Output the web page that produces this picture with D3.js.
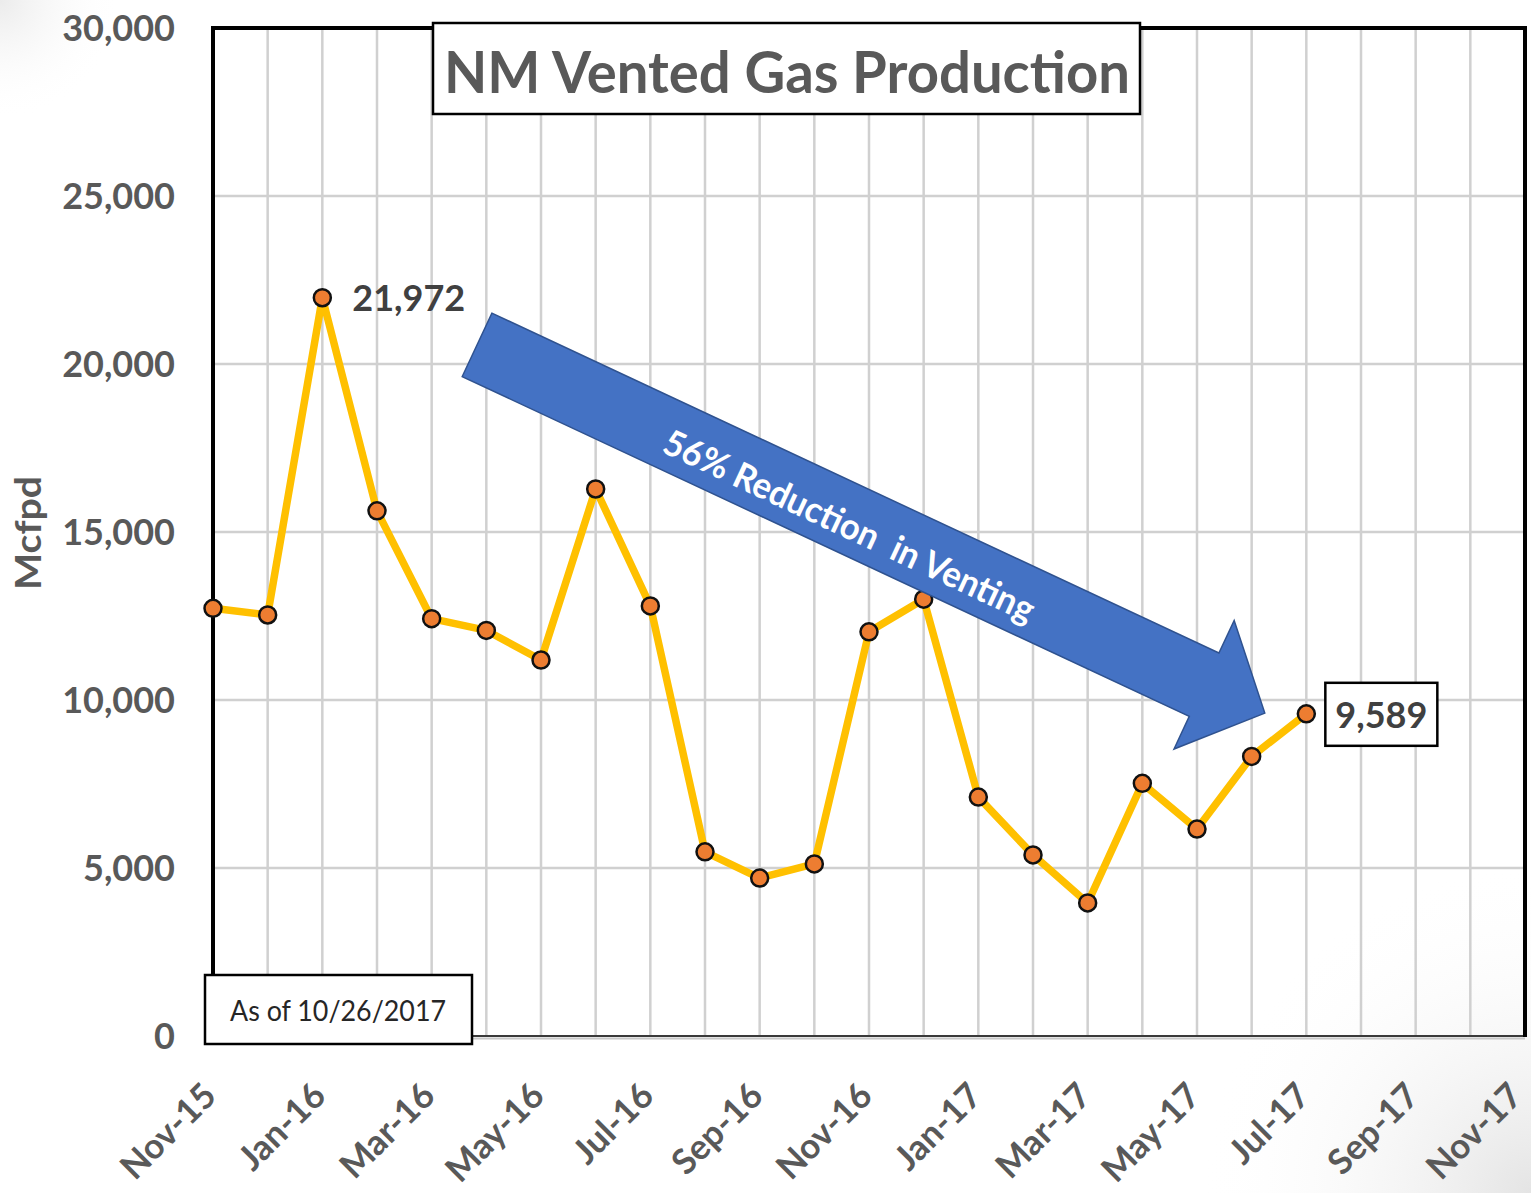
<!DOCTYPE html>
<html>
<head>
<meta charset="utf-8">
<script src="https://cdn.jsdelivr.net/npm/d3@7"></script>
<style>
  html, body { margin: 0; padding: 0; background: #fff; }
  svg { display: block; }
</style>
</head>
<body>
<script>
// month labels for the date axis (Nov-15 .. Nov-17), one per month
const months = ["Nov-15","Dec-15","Jan-16","Feb-16","Mar-16","Apr-16","May-16","Jun-16","Jul-16",
  "Aug-16","Sep-16","Oct-16","Nov-16","Dec-16","Jan-17","Feb-17","Mar-17","Apr-17","May-17",
  "Jun-17","Jul-17","Aug-17","Sep-17","Oct-17","Nov-17"];
// vented gas, Mcfpd, Nov-15 .. Jul-17
const vented = [12730, 12530, 21972, 15630, 12420, 12070, 11190, 16280, 12800, 5480, 4700,
  5120, 12030, 13000, 7110, 5390, 3960, 7520, 6160, 8320, 9589];
const yTicks = [0, 5000, 10000, 15000, 20000, 25000, 30000];
const xTicks = [0, 2, 4, 6, 8, 10, 12, 14, 16, 18, 20, 22, 24];

const W = 1531, H = 1193;
const gray = "#595959";
const font = "Lato, 'Open Sans', sans-serif";

const svg = d3.select("body").append("svg")
  .attr("width", W).attr("height", H);

// slide background shading in the corners
const defs = svg.append("defs");
const g1 = defs.append("radialGradient").attr("id", "shadeBR")
  .attr("gradientUnits", "userSpaceOnUse").attr("cx", W).attr("cy", H).attr("r", 330);
g1.append("stop").attr("offset", 0).attr("stop-color", "#e4e4e4");
g1.append("stop").attr("offset", 1).attr("stop-color", "#fff").attr("stop-opacity", 0);
const g2 = defs.append("radialGradient").attr("id", "shadeTL")
  .attr("gradientUnits", "userSpaceOnUse").attr("cx", 0).attr("cy", 0).attr("r", 120);
g2.append("stop").attr("offset", 0).attr("stop-color", "#ebebeb");
g2.append("stop").attr("offset", 1).attr("stop-color", "#fff").attr("stop-opacity", 0);
svg.append("rect").attr("width", W).attr("height", H).attr("fill", "#fff");
svg.append("rect").attr("width", W).attr("height", H).attr("fill", "url(#shadeBR)");
svg.append("rect").attr("width", W).attr("height", H).attr("fill", "url(#shadeTL)");

const x = d3.scaleLinear().domain([0, 24]).range([213, 1525]);
const y = d3.scaleLinear().domain([0, 30000]).range([1036, 28]);

// gridlines
svg.append("g").selectAll("line").data(d3.range(1, 24)).join("line")
  .attr("x1", d => x(d)).attr("x2", d => x(d))
  .attr("y1", y(30000)).attr("y2", y(0))
  .attr("stroke", "#d0d0d0").attr("stroke-width", 2.5);
svg.append("g").selectAll("line").data(yTicks.slice(1, -1)).join("line")
  .attr("x1", x(0)).attr("x2", x(24))
  .attr("y1", d => y(d)).attr("y2", d => y(d))
  .attr("stroke", "#d0d0d0").attr("stroke-width", 2.5);

// plot frame
svg.append("line").attr("x1", x(0)).attr("x2", x(24)).attr("y1", y(0) + 2.5).attr("y2", y(0) + 2.5)
  .attr("stroke", "#c8c8c8").attr("stroke-width", 2);
svg.append("line").attr("x1", x(0)).attr("x2", x(24)).attr("y1", y(0)).attr("y2", y(0))
  .attr("stroke", "#3a3a3a").attr("stroke-width", 2);
svg.append("path")
  .attr("d", `M${x(0)},${y(0)}V${y(30000)}H${x(24)}V${y(0) + 1}`)
  .attr("fill", "none").attr("stroke", "#000").attr("stroke-width", 4);

// y axis
const yAxis = svg.append("g").attr("transform", `translate(${x(0)},0)`)
  .call(d3.axisLeft(y).tickValues(yTicks).tickSize(0).tickPadding(38).tickFormat(d3.format(",")));
yAxis.select(".domain").remove();
yAxis.selectAll("text")
  .attr("fill", gray).attr("font-family", font).attr("font-weight", 700).attr("font-size", 36)
  .attr("dy", "0.36em");

svg.append("text")
  .attr("transform", `translate(41,533) rotate(-90)`)
  .attr("text-anchor", "middle")
  .attr("fill", gray).attr("font-family", font).attr("font-weight", 700).attr("font-size", 37)
  .attr("textLength", 114).attr("lengthAdjust", "spacingAndGlyphs")
  .text("Mcfpd");

// x axis
const xAxis = svg.append("g").attr("transform", `translate(0,${y(0)})`)
  .call(d3.axisBottom(x).tickValues(xTicks).tickSize(0).tickFormat(i => months[i]));
xAxis.select(".domain").remove();
xAxis.selectAll("text")
  .attr("fill", gray).attr("font-family", font).attr("font-weight", 700).attr("font-size", 35)
  .attr("text-anchor", "end")
  .attr("y", 0).attr("dy", "0.36em")
  .attr("transform", d => d === 24 ? "translate(-10,53) rotate(-45)" : "translate(-4,53) rotate(-45)");

// title box
svg.append("rect").attr("x", 433).attr("y", 23).attr("width", 707).attr("height", 91)
  .attr("fill", "#fff").attr("stroke", "#000").attr("stroke-width", 2.5);
svg.append("text").attr("x", 787).attr("y", 93).attr("text-anchor", "middle")
  .attr("fill", gray).attr("font-family", font).attr("font-weight", 700).attr("font-size", 58)
  .attr("textLength", 686).attr("lengthAdjust", "spacingAndGlyphs")
  .text("NM Vented Gas Production");

// series
const line = d3.line().x((d, i) => x(i)).y(d => y(d));
svg.append("path").datum(vented)
  .attr("d", line).attr("fill", "none")
  .attr("stroke", "#FFC000").attr("stroke-width", 7.5).attr("stroke-linejoin", "round");
svg.append("g").selectAll("circle").data(vented).join("circle")
  .attr("cx", (d, i) => x(i)).attr("cy", d => y(d)).attr("r", 8.5)
  .attr("fill", "#ED7D31").attr("stroke", "#111").attr("stroke-width", 2.5);

// reduction arrow, anchored in data units
const arrowFrom = [4.83, 20570], arrowTo = [19.24, 9610];
const T = [x(arrowFrom[0]), y(arrowFrom[1])], P = [x(arrowTo[0]), y(arrowTo[1])];
const len = Math.hypot(P[0] - T[0], P[1] - T[1]);
const d = [(P[0] - T[0]) / len, (P[1] - T[1]) / len];
const n = [-d[1], d[0]];
const shaftHalf = 35, headHalf = 71, headLen = 67;
const B = [P[0] - headLen * d[0], P[1] - headLen * d[1]];
const off = (p, k) => [p[0] + k * n[0], p[1] + k * n[1]];
const arrowPts = [off(T, -shaftHalf), off(B, -shaftHalf), off(B, -headHalf), P,
  off(B, headHalf), off(B, shaftHalf), off(T, shaftHalf)];
svg.append("polygon").attr("points", arrowPts.map(p => p.join(",")).join(" "))
  .attr("fill", "#4472C4").attr("stroke", "#2F528F").attr("stroke-width", 1.5);
const angle = Math.atan2(d[1], d[0]) * 180 / Math.PI;
const tc = off([T[0] + 414 * d[0], T[1] + 414 * d[1]], 6);
svg.append("text")
  .attr("transform", `translate(${tc[0]},${tc[1]}) rotate(${angle})`)
  .attr("text-anchor", "middle").attr("dy", "0.36em")
  .style("white-space", "pre")
  .attr("fill", "#fff").attr("font-family", font).attr("font-weight", 700).attr("font-size", 36)
  .attr("textLength", 405).attr("lengthAdjust", "spacingAndGlyphs")
  .text("56% Reduction  in Venting");

// data labels
const peak = 2, last = vented.length - 1;
svg.append("text").attr("x", x(peak) + 30).attr("y", y(vented[peak])).attr("dy", "0.36em")
  .attr("fill", "#404040").attr("font-family", font).attr("font-weight", 700).attr("font-size", 36)
  .text(d3.format(",")(vented[peak]));
const lx = x(last) + 19, ly = y(vented[last]);
svg.append("rect").attr("x", lx).attr("y", ly - 31).attr("width", 112).attr("height", 63)
  .attr("fill", "#fff").attr("stroke", "#000").attr("stroke-width", 2.5);
svg.append("text").attr("x", lx + 56).attr("y", ly + 1).attr("dy", "0.36em").attr("text-anchor", "middle")
  .attr("fill", "#404040").attr("font-family", font).attr("font-weight", 700).attr("font-size", 36)
  .text(d3.format(",")(vented[last]));

// as-of note
svg.append("rect").attr("x", 205).attr("y", 975).attr("width", 267).attr("height", 69)
  .attr("fill", "#fff").attr("stroke", "#000").attr("stroke-width", 2.5);
svg.append("text").attr("x", 338).attr("y", 1011).attr("dy", "0.36em").attr("text-anchor", "middle")
  .attr("fill", "#262626").attr("font-family", font).attr("font-size", 29)
  .attr("textLength", 216).attr("lengthAdjust", "spacingAndGlyphs")
  .text("As of 10/26/2017");
</script>
</body>
</html>
